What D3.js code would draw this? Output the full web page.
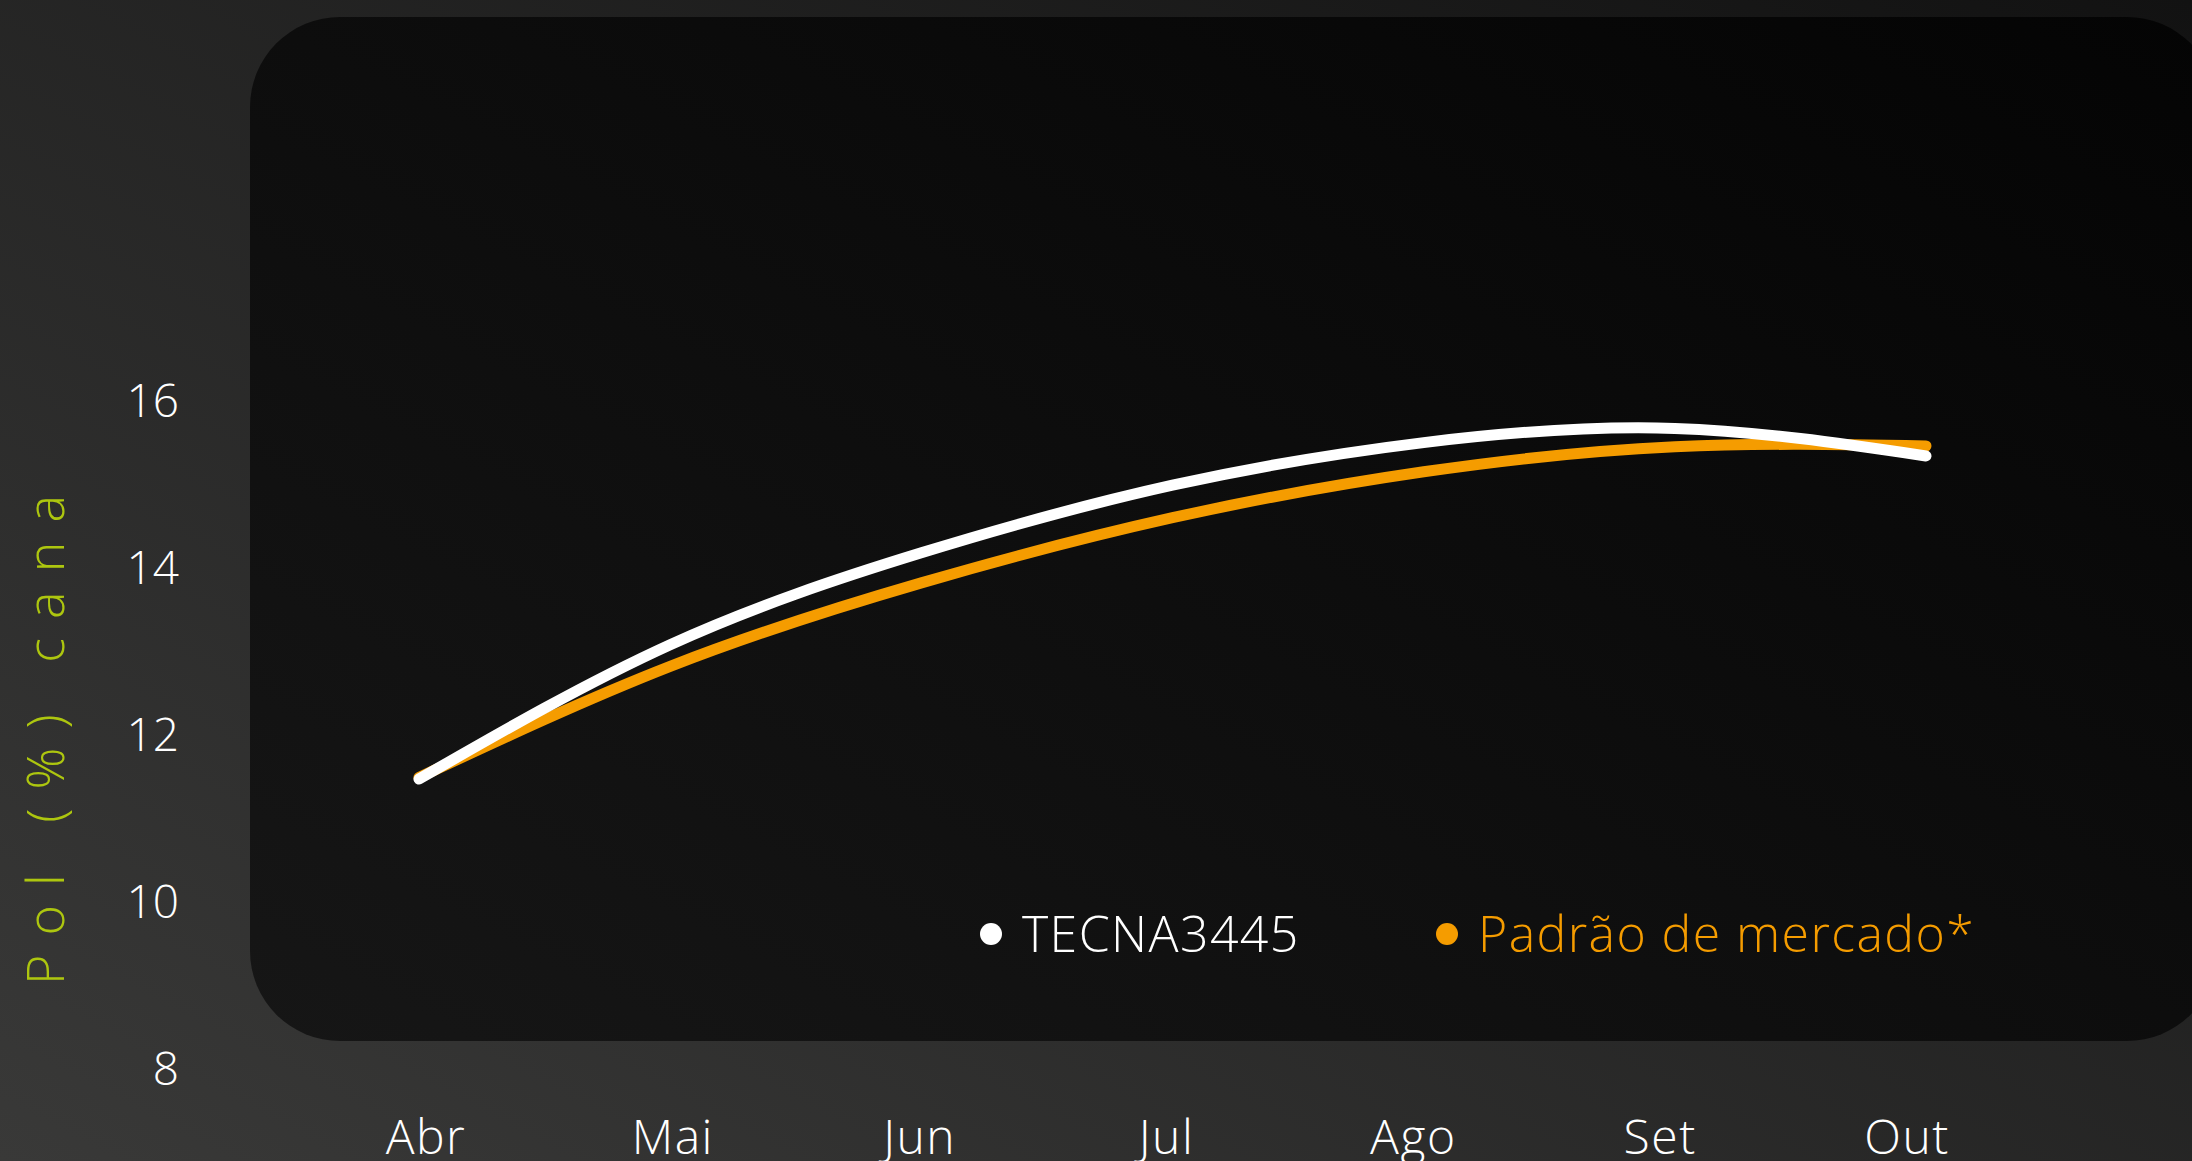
<!DOCTYPE html>
<html>
<head>
<meta charset="utf-8">
<script src="https://cdn.jsdelivr.net/npm/d3@7"></script>
<style>
  html, body { margin: 0; padding: 0; overflow: hidden; background: #222; }
  text { font-family: "Open Sans", "Noto Sans", sans-serif; font-weight: 300; }
</style>
</head>
<body>
<div id="chart-wrapper"></div>
<script>
// data
const months = ["Abr", "Mai", "Jun", "Jul", "Ago", "Set", "Out"];
const tecnaValues = [11.46, 13.07, 14.17, 14.98, 15.49, 15.66, 15.33];
const mercadoValues = [11.48, 12.81, 13.81, 14.59, 15.14, 15.44, 15.45];
const yTicks = [8, 10, 12, 14, 16];
const seriesNames = ["TECNA3445", "Padrão de mercado*"];
const seriesColors = ["#ffffff", "#f59c00"];
const yTitle = "Pol (%) cana";

class polChart {
  dimensions = { width: 2192, height: 1161 };
  svg;
  xScale;
  xLabelScale;
  yScale;

  constructor() {
    this.svg = d3.select("#chart-wrapper")
      .append("svg")
      .attr("width", this.dimensions.width)
      .attr("height", this.dimensions.height);

    this.xScale = d3.scaleLinear().domain([0, months.length - 1]).range([419, 1926]);
    this.xLabelScale = d3.scalePoint().domain(months).range([426, 1907]);
    this.yScale = d3.scaleLinear().domain([8, 16]).range([1068, 400]);

    this.drawBackground();
    this.drawAxes();
    this.drawLines();
    this.drawLegend();
  }

  drawBackground() {
    const defs = this.svg.append("defs");
    const bg = defs.append("linearGradient").attr("id", "bg-grad")
      .attr("x1", 0).attr("y1", 1).attr("x2", 1).attr("y2", 0);
    bg.append("stop").attr("offset", "0%").attr("stop-color", "#393938");
    bg.append("stop").attr("offset", "100%").attr("stop-color", "#121212");

    const panel = defs.append("linearGradient").attr("id", "panel-grad")
      .attr("x1", 0).attr("y1", 1).attr("x2", 1).attr("y2", 0);
    panel.append("stop").attr("offset", "0%").attr("stop-color", "#161616");
    panel.append("stop").attr("offset", "100%").attr("stop-color", "#040404");

    this.svg.append("rect")
      .attr("width", this.dimensions.width)
      .attr("height", this.dimensions.height)
      .attr("fill", "url(#bg-grad)");

    this.svg.append("rect")
      .attr("x", 250).attr("y", 17)
      .attr("width", 1967).attr("height", 1024)
      .attr("rx", 90).attr("ry", 90)
      .attr("fill", "url(#panel-grad)");
  }

  drawAxes() {
    const yAxis = this.svg.append("g").classed("y-axis", true);
    yAxis.selectAll("text")
      .data(yTicks)
      .join("text")
      .attr("x", 179)
      .attr("y", d => this.yScale(d))
      .attr("dy", "0.36em")
      .attr("text-anchor", "end")
      .attr("fill", "#ffffff")
      .attr("font-size", 46)
      .text(d => d);

    // labels sit on the bottom edge, as in the reference
    const xAxis = this.svg.append("g").classed("x-axis", true);
    xAxis.selectAll("text")
      .data(months)
      .join("text")
      .attr("x", d => this.xLabelScale(d))
      .attr("y", 1154)
      .attr("text-anchor", "middle")
      .attr("fill", "#ffffff")
      .attr("font-size", 48)
      .attr("letter-spacing", 1.5)
      .text(d => d);

    this.svg.append("text")
      .attr("transform", "translate(64,740) rotate(-90)")
      .attr("text-anchor", "middle")
      .attr("fill", "#adc60f")
      .attr("font-size", 52)
      .attr("textLength", 490)
      .attr("lengthAdjust", "spacing")
      .text(yTitle);
  }

  drawLines() {
    const lineGen = d3.line()
      .x((d, i) => this.xScale(i))
      .y(d => this.yScale(d))
      .curve(d3.curveNatural);

    // orange under white
    const series = [mercadoValues, tecnaValues];
    const colors = [seriesColors[1], seriesColors[0]];
    this.svg.append("g").classed("lines", true)
      .selectAll("path")
      .data(series)
      .join("path")
      .attr("d", lineGen)
      .attr("fill", "none")
      .attr("stroke", (d, i) => colors[i])
      .attr("stroke-width", 11)
      .attr("stroke-linecap", "round")
      .attr("stroke-linejoin", "round");
  }

  drawLegend() {
    const legendX = [991, 1447];
    const items = this.svg.append("g").classed("legend", true)
      .selectAll("g")
      .data(seriesNames)
      .join("g")
      .attr("transform", (d, i) => `translate(${legendX[i]},934)`);
    items.append("circle")
      .attr("r", 11)
      .attr("fill", (d, i) => seriesColors[i]);
    items.append("text")
      .attr("x", 31)
      .attr("dy", "0.36em")
      .attr("fill", (d, i) => seriesColors[i])
      .attr("font-size", 50)
      .attr("letter-spacing", 1.4)
      .text(d => d);
  }
}

new polChart();
</script>
</body>
</html>
